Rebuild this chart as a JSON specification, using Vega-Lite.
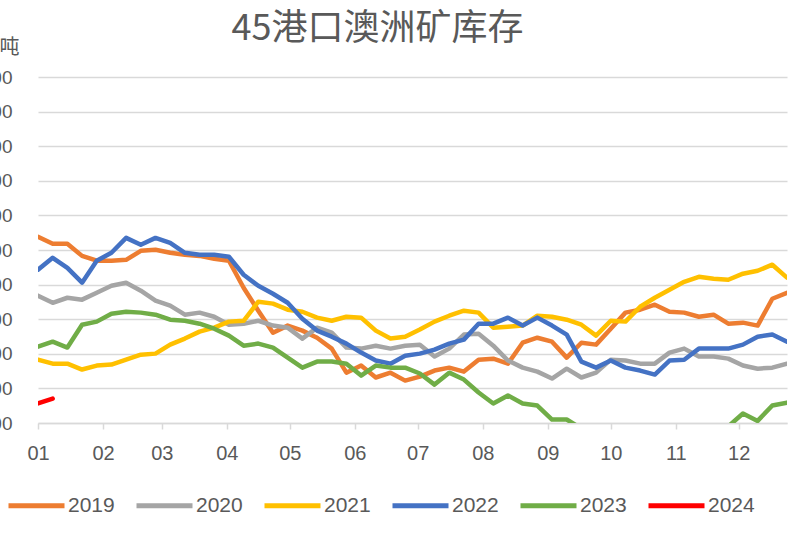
{
 "$schema": "https://vega.github.io/schema/vega-lite/v6.json",
 "autosize": {"type": "none"},
 "width": 749,
 "height": 346,
 "padding": {"left": 38, "top": 77, "right": 8, "bottom": 111},
 "background": "white",
 "title": {"text": "45港口澳洲矿库存", "font": "Noto Sans CJK SC", "fontSize": 36, "fontWeight": "normal", "color": "#595959", "anchor": "middle", "frame": "group", "dx": -35, "dy": 31, "offset": 20},
 "config": {"view": {"stroke": null}, "font": "Liberation Sans"},
 "data": {
  "format": {"parse": {"md": "date:'%m-%d'"}},
  "values": [
   {"md": "01-01", "2019": 6076, "2020": 5736, "2021": 5366, "2022": 5886, "2023": 5441, "2024": 5113},
   {"md": "01-08", "2019": 6036, "2020": 5695, "2021": 5343, "2022": 5955, "2023": 5470, "2024": 5141},
   {"md": "01-15", "2019": 6036, "2020": 5724, "2021": 5343, "2022": 5897, "2023": 5436},
   {"md": "01-22", "2019": 5966, "2020": 5713, "2021": 5309, "2022": 5811, "2023": 5568},
   {"md": "01-29", "2019": 5938, "2020": 5753, "2021": 5332, "2022": 5938, "2023": 5586},
   {"md": "02-05", "2019": 5938, "2020": 5793, "2021": 5338, "2022": 5984, "2023": 5632},
   {"md": "02-12", "2019": 5943, "2020": 5811, "2021": 5366, "2022": 6070, "2023": 5643},
   {"md": "02-19", "2019": 5995, "2020": 5765, "2021": 5395, "2022": 6030, "2023": 5638},
   {"md": "02-26", "2019": 6001, "2020": 5707, "2021": 5401, "2022": 6070, "2023": 5626},
   {"md": "03-05", "2019": 5984, "2020": 5678, "2021": 5453, "2022": 6041, "2023": 5597},
   {"md": "03-12", "2019": 5972, "2020": 5626, "2021": 5488, "2022": 5984, "2023": 5591},
   {"md": "03-19", "2019": 5966, "2020": 5638, "2021": 5528, "2022": 5972, "2023": 5574},
   {"md": "03-26", "2019": 5949, "2020": 5614, "2021": 5551, "2022": 5972, "2023": 5545},
   {"md": "04-02", "2019": 5938, "2020": 5568, "2021": 5586, "2022": 5961, "2023": 5505},
   {"md": "04-09", "2019": 5782, "2020": 5574, "2021": 5591, "2022": 5857, "2023": 5447},
   {"md": "04-16", "2019": 5649, "2020": 5591, "2021": 5701, "2022": 5793, "2023": 5459},
   {"md": "04-23", "2019": 5522, "2020": 5563, "2021": 5690, "2022": 5747, "2023": 5436},
   {"md": "04-30", "2019": 5563, "2020": 5551, "2021": 5655, "2022": 5695, "2023": 5378},
   {"md": "05-07", "2019": 5534, "2020": 5488, "2021": 5643, "2022": 5603, "2023": 5320},
   {"md": "05-14", "2019": 5493, "2020": 5551, "2021": 5609, "2022": 5534, "2023": 5355},
   {"md": "05-21", "2019": 5430, "2020": 5522, "2021": 5591, "2022": 5499, "2023": 5355},
   {"md": "05-28", "2019": 5291, "2020": 5436, "2021": 5614, "2022": 5459, "2023": 5343},
   {"md": "06-04", "2019": 5332, "2020": 5430, "2021": 5609, "2022": 5407, "2023": 5274},
   {"md": "06-11", "2019": 5263, "2020": 5447, "2021": 5534, "2022": 5361, "2023": 5332},
   {"md": "06-18", "2019": 5291, "2020": 5430, "2021": 5488, "2022": 5343, "2023": 5320},
   {"md": "06-25", "2019": 5245, "2020": 5447, "2021": 5499, "2022": 5389, "2023": 5320},
   {"md": "07-02", "2019": 5268, "2020": 5453, "2021": 5540, "2022": 5401, "2023": 5286},
   {"md": "07-09", "2019": 5303, "2020": 5384, "2021": 5586, "2022": 5424, "2023": 5222},
   {"md": "07-16", "2019": 5320, "2020": 5430, "2021": 5620, "2022": 5459, "2023": 5291},
   {"md": "07-23", "2019": 5297, "2020": 5511, "2021": 5649, "2022": 5482, "2023": 5251},
   {"md": "07-30", "2019": 5366, "2020": 5516, "2021": 5638, "2022": 5574, "2023": 5176},
   {"md": "08-06", "2019": 5372, "2020": 5447, "2021": 5551, "2022": 5574, "2023": 5113},
   {"md": "08-13", "2019": 5343, "2020": 5361, "2021": 5557, "2022": 5609, "2023": 5159},
   {"md": "08-20", "2019": 5464, "2020": 5320, "2021": 5563, "2022": 5563, "2023": 5113},
   {"md": "08-27", "2019": 5493, "2020": 5297, "2021": 5620, "2022": 5609, "2023": 5101},
   {"md": "09-03", "2019": 5470, "2020": 5257, "2021": 5614, "2022": 5563, "2023": 5020},
   {"md": "09-10", "2019": 5378, "2020": 5314, "2021": 5597, "2022": 5511, "2023": 5020},
   {"md": "09-17", "2019": 5464, "2020": 5263, "2021": 5568, "2022": 5355, "2023": 4968},
   {"md": "09-24", "2019": 5453, "2020": 5291, "2021": 5505, "2022": 5320, "2023": 4899},
   {"md": "10-01", "2019": 5545, "2020": 5366, "2021": 5591, "2022": 5361, "2023": 4870},
   {"md": "10-08", "2019": 5638, "2020": 5361, "2021": 5586, "2022": 5320, "2023": 4841},
   {"md": "10-15", "2019": 5655, "2020": 5343, "2021": 5672, "2022": 5303, "2023": 4812},
   {"md": "10-22", "2019": 5684, "2020": 5343, "2021": 5724, "2022": 5280, "2023": 4812},
   {"md": "10-29", "2019": 5643, "2020": 5407, "2021": 5770, "2022": 5361, "2023": 4841},
   {"md": "11-05", "2019": 5638, "2020": 5430, "2021": 5816, "2022": 5366, "2023": 4870},
   {"md": "11-12", "2019": 5614, "2020": 5384, "2021": 5845, "2022": 5430, "2023": 4899},
   {"md": "11-19", "2019": 5626, "2020": 5384, "2021": 5834, "2022": 5430, "2023": 4928},
   {"md": "11-26", "2019": 5574, "2020": 5372, "2021": 5828, "2022": 5430, "2023": 4980},
   {"md": "12-03", "2019": 5580, "2020": 5332, "2021": 5863, "2022": 5453, "2023": 5055},
   {"md": "12-10", "2019": 5563, "2020": 5314, "2021": 5880, "2022": 5499, "2023": 5012},
   {"md": "12-17", "2019": 5718, "2020": 5320, "2021": 5915, "2022": 5511, "2023": 5101},
   {"md": "12-24", "2019": 5753, "2020": 5343, "2021": 5840, "2022": 5470, "2023": 5118}
  ]
 },
 "transform": [{"fold": ["2019", "2020", "2021", "2022", "2023", "2024"], "as": ["year", "value"]}],
 "mark": {"type": "line", "strokeWidth": 4.5, "clip": true, "strokeJoin": "round", "strokeCap": "round"},
 "encoding": {
  "x": {
   "field": "md", "type": "temporal",
   "scale": {"domain": [{"year": 1900, "month": 1, "date": 1}, {"year": 1900, "month": 12, "date": 24}], "nice": false},
   "axis": {"title": null, "format": "%m", "tickCount": {"interval": "month", "step": 1}, "grid": false,
    "domainColor": "#D9D9D9", "domainWidth": 1.5, "tickColor": "#D9D9D9", "tickWidth": 1.5, "tickSize": 6,
    "labelFontSize": 20, "labelColor": "#595959", "labelPadding": 14, "labelFlush": false, "labelOverlap": false}
  },
  "y": {
   "field": "value", "type": "quantitative",
   "scale": {"domain": [5000, 7000], "nice": false, "zero": false},
   "axis": {"title": "万吨", "titleAngle": 0, "titleAlign": "right", "titleBaseline": "alphabetic", "titleX": -19, "titleY": -24,
    "titleFont": "Noto Sans CJK SC", "titleFontSize": 20, "titleFontWeight": "normal", "titleColor": "#595959",
    "values": [5000, 5200, 5400, 5600, 5800, 6000, 6200, 6400, 6600, 6800, 7000],
    "domain": false, "ticks": false, "labelPadding": 26, "labelFontSize": 19, "labelColor": "#595959",
    "gridColor": "#D9D9D9", "gridWidth": 1.5}
  },
  "color": {
   "field": "year", "type": "nominal",
   "scale": {"domain": ["2019", "2020", "2021", "2022", "2023", "2024"], "range": ["#ED7D31", "#A5A5A5", "#FFC000", "#4472C4", "#70AD47", "#FF0000"]},
   "legend": {"title": null, "orient": "none", "direction": "horizontal", "legendX": -32, "legendY": 398, "columns": 6,
    "symbolType": "stroke", "symbolSize": 3136, "symbolStrokeWidth": 5, "labelFontSize": 21, "labelColor": "#595959",
    "labelOffset": 1, "columnPadding": 11}
  }
 }
}
